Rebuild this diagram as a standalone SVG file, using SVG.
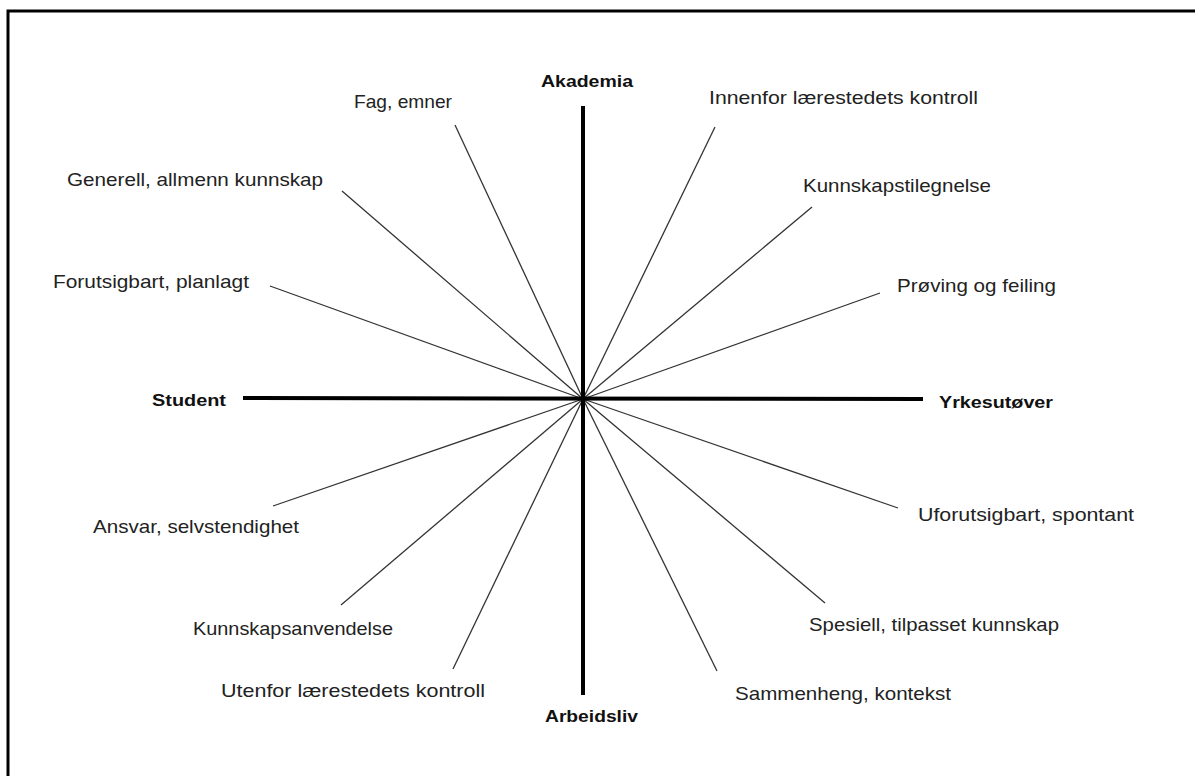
<svg xmlns="http://www.w3.org/2000/svg" width="1195" height="776" viewBox="0 0 1195 776">
<style>
.lbl{font-family:"Liberation Sans",Arial,sans-serif;font-size:18.5px;fill:#222}
.ax{font-family:"Liberation Sans",Arial,sans-serif;font-size:17px;font-weight:bold;fill:#111}
.spoke{stroke:#333;stroke-width:1.3;fill:none}
.axis{stroke:#000;stroke-width:4;fill:none}
</style>
<rect x="0" y="0" width="1195" height="776" fill="#fff"/>
<path d="M8,776 V11 H1195" fill="none" stroke="#000" stroke-width="3"/>
<g id="connectors">
<line class="spoke" x1="583" y1="399" x2="455" y2="125"/>
<line class="spoke" x1="583" y1="399" x2="715" y2="127"/>
<line class="spoke" x1="583" y1="399" x2="342" y2="191"/>
<line class="spoke" x1="583" y1="399" x2="812" y2="207"/>
<line class="spoke" x1="583" y1="399" x2="270" y2="286"/>
<line class="spoke" x1="583" y1="399" x2="880" y2="293"/>
<line class="spoke" x1="583" y1="399" x2="273" y2="506"/>
<line class="spoke" x1="583" y1="399" x2="898" y2="508"/>
<line class="spoke" x1="583" y1="399" x2="341" y2="605"/>
<line class="spoke" x1="583" y1="399" x2="825" y2="603"/>
<line class="spoke" x1="583" y1="399" x2="453" y2="669"/>
<line class="spoke" x1="583" y1="399" x2="717" y2="671"/>
<line class="axis" x1="583" y1="106" x2="583" y2="695"/>
<line class="axis" x1="243" y1="398" x2="923" y2="399"/>
</g>
<g id="akademia"><text class="ax" x="541" y="87" textLength="92" lengthAdjust="spacingAndGlyphs">Akademia</text></g>
<g id="student"><text class="ax" x="152" y="406" textLength="74" lengthAdjust="spacingAndGlyphs">Student</text></g>
<g id="yrkesutover"><text class="ax" x="939" y="408" textLength="114" lengthAdjust="spacingAndGlyphs">Yrkesutøver</text></g>
<g id="arbeidsliv"><text class="ax" x="545" y="722" textLength="93" lengthAdjust="spacingAndGlyphs">Arbeidsliv</text></g>
<g id="fag"><text class="lbl" x="354" y="108" textLength="98" lengthAdjust="spacingAndGlyphs">Fag, emner</text></g>
<g id="innenfor"><text class="lbl" x="709" y="104" textLength="269" lengthAdjust="spacingAndGlyphs">Innenfor lærestedets kontroll</text></g>
<g id="generell"><text class="lbl" x="67" y="186" textLength="256" lengthAdjust="spacingAndGlyphs">Generell, allmenn kunnskap</text></g>
<g id="tilegnelse"><text class="lbl" x="803" y="192" textLength="188" lengthAdjust="spacingAndGlyphs">Kunnskapstilegnelse</text></g>
<g id="forutsigbart"><text class="lbl" x="53" y="288" textLength="196" lengthAdjust="spacingAndGlyphs">Forutsigbart, planlagt</text></g>
<g id="proving"><text class="lbl" x="897" y="292" textLength="159" lengthAdjust="spacingAndGlyphs">Prøving og feiling</text></g>
<g id="ansvar"><text class="lbl" x="93" y="533" textLength="206" lengthAdjust="spacingAndGlyphs">Ansvar, selvstendighet</text></g>
<g id="uforutsigbart"><text class="lbl" x="918" y="521" textLength="216" lengthAdjust="spacingAndGlyphs">Uforutsigbart, spontant</text></g>
<g id="anvendelse"><text class="lbl" x="193" y="635" textLength="200" lengthAdjust="spacingAndGlyphs">Kunnskapsanvendelse</text></g>
<g id="spesiell"><text class="lbl" x="809" y="631" textLength="250" lengthAdjust="spacingAndGlyphs">Spesiell, tilpasset kunnskap</text></g>
<g id="utenfor"><text class="lbl" x="221" y="697" textLength="264" lengthAdjust="spacingAndGlyphs">Utenfor lærestedets kontroll</text></g>
<g id="sammenheng"><text class="lbl" x="735" y="700" textLength="216" lengthAdjust="spacingAndGlyphs">Sammenheng, kontekst</text></g>
</svg>
